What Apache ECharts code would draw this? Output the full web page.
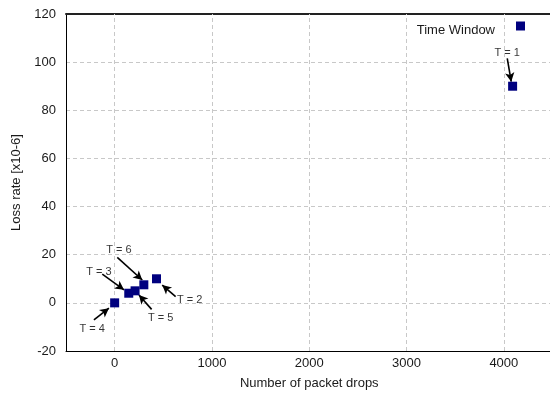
<!DOCTYPE html>
<html><head><meta charset="utf-8">
<script src="https://cdn.jsdelivr.net/npm/echarts@6/dist/echarts.min.js"></script>
<style>html,body{margin:0;padding:0;background:#fff}#c{width:550px;height:401px}</style>
</head><body><div id="c"></div>
<script>
// Data
var seriesName = 'Time Window';
var drops = [4090, 430, 145, 0, 210, 300];
var lossRate = [90, 10, 4, 0, 5, 7.5];
var xTicks = [0, 1000, 2000, 3000, 4000];
var yTicks = [-20, 0, 20, 40, 60, 80, 100, 120];
// Annotations (data coordinates)
var annText = ['T = 1', 'T = 2', 'T = 3', 'T = 4', 'T = 5', 'T = 6'];
var annLabelX = [4035, 771, -161, -230, 473, 44];
var annLabelY = [104, 1.2, 13, -11, -6.4, 22];
var arrowFromX = [4035, 627, -127, -213, 380, 27];
var arrowFromY = [101.6, 2.6, 11.9, -7.1, -2.7, 18.9];
var arrowToX = [4076, 489, 96, -59, 250, 284];
var arrowToY = [91.9, 7.4, 5.4, -2.2, 3.3, 9.5];

var font = 'Liberation Sans, Arial, sans-serif';
var chart = echarts.init(document.getElementById('c'), null, {renderer: 'canvas'});
var pts = drops.map(function (x, i) { return [x, lossRate[i]]; });
var labPts = annText.map(function (t, i) { return {value: [annLabelX[i], annLabelY[i]], name: t}; });
var arrows = annText.map(function (t, i) {
  return [{coord: [arrowFromX[i], arrowFromY[i]]}, {coord: [arrowToX[i], arrowToY[i]]}];
});
var vGrid = xTicks.map(function (v) { return {xAxis: v}; });

chart.setOption({
  animation: false,
  backgroundColor: '#fff',
  textStyle: {fontFamily: font},
  grid: {left: 66, top: 14, width: 486.5, height: 337, show: false, outerBoundsMode: 'none', containLabel: false},
  legend: {
    data: [seriesName], right: 25, top: 21.5, padding: 0, align: 'right', itemWidth: 9, itemHeight: 9,
    icon: 'rect', formatter: '{t|{name}}',
    textStyle: {fontSize: 13, color: '#1a1a1a', fontFamily: font, padding: [0, 16, 0, 0],
      rich: {t: {fontSize: 13, color: '#1a1a1a', fontFamily: font, padding: [9, 0, 0, 0]}}}
  },
  xAxis: [{
    type: 'value', min: -500, max: 4500, interval: 500,
    name: 'Number of packet drops', nameLocation: 'middle', nameGap: 26,
    nameTextStyle: {fontSize: 13, color: '#1a1a1a', fontFamily: font},
    axisLine: {show: true, onZero: false, lineStyle: {color: '#000', width: 1}},
    axisTick: {show: false},
    axisLabel: {fontSize: 13, color: '#1a1a1a', margin: 6, fontFamily: font,
      formatter: function (v) { return xTicks.indexOf(v) >= 0 ? String(v) : ''; }},
    splitLine: {show: false}
  }, {
    type: 'value', position: 'top', min: -500, max: 4500, interval: 500,
    axisLine: {show: true, onZero: false, lineStyle: {color: '#222', width: 2}},
    axisTick: {show: false}, axisLabel: {show: false}, splitLine: {show: false}
  }],
  yAxis: {
    type: 'value', min: -20, max: 120, interval: 20,
    name: 'Loss rate [x10-6]', nameLocation: 'middle', nameGap: 43,
    nameTextStyle: {fontSize: 13, color: '#1a1a1a', fontFamily: font},
    axisLine: {show: true, onZero: false, lineStyle: {color: '#000', width: 1}},
    axisTick: {show: false},
    axisLabel: {fontSize: 13, color: '#1a1a1a', margin: 10, fontFamily: font,
      formatter: function (v) { return yTicks.indexOf(v) >= 0 ? String(v) : ''; }},
    splitLine: {show: true, lineStyle: {color: '#c8c8c8', type: [4, 3], width: 1}}
  },
  series: [
    {
      name: 'grid', type: 'scatter', data: [], silent: true,
      markLine: {
        silent: true, symbol: ['none', 'none'], label: {show: false},
        lineStyle: {color: '#c8c8c8', type: [4, 3], width: 1}, data: vGrid
      }, z: 1
    },
    {
      name: seriesName, type: 'scatter', data: pts, symbol: 'rect', symbolSize: 9,
      itemStyle: {color: '#00007f', opacity: 1}, z: 5
    },
    {
      name: 'ann', type: 'scatter', data: labPts, symbolSize: 0, silent: true,
      label: {show: true, position: 'inside', formatter: '{b}', fontSize: 11, color: '#000', fontFamily: font},
      markLine: {
        silent: true, symbol: ['none', 'arrow'], symbolSize: [7, 9],
        lineStyle: {color: '#000', width: 1.6, type: 'solid'},
        label: {show: false}, data: arrows
      }
    }
  ]
});
</script></body></html>
